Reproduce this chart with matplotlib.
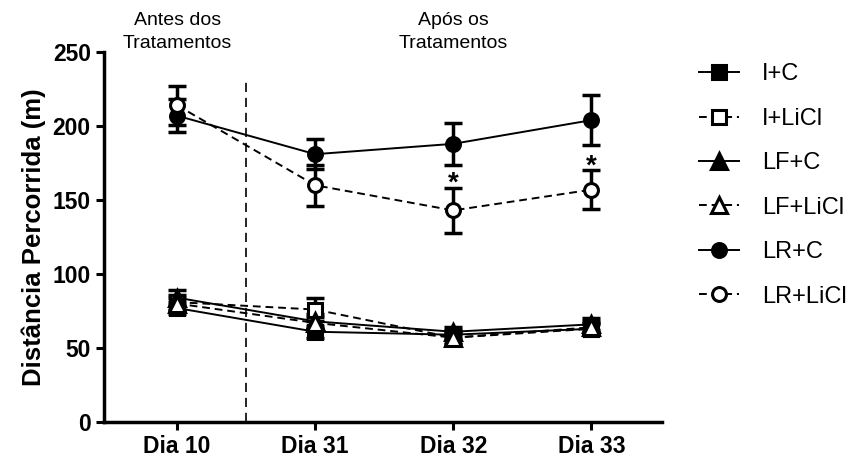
import matplotlib
matplotlib.use("Agg")
import matplotlib.pyplot as plt
import numpy as np

plt.rcParams['font.family'] = ['Liberation Sans', 'DejaVu Sans']

dias = ["Dia 10", "Dia 31", "Dia 32", "Dia 33"]
grupos = ["I+C", "I+LiCl", "LF+C", "LF+LiCl", "LR+C", "LR+LiCl"]

# mean distance per group (m)
i_c = [77, 61, 59, 63]
i_licl = [81, 76, 57, 63]
lf_c = [84, 68, 61, 66]
lf_licl = [80, 67, 57, 64]
lr_c = [207, 181, 188, 204]
lr_licl = [214, 160, 143, 157]

# standard error per group (m)
i_c_err = [4, 4, 3, 3]
i_licl_err = [5, 8, 4, 4]
lf_c_err = [5, 5, 3, 4]
lf_licl_err = [4, 4, 4, 4]
lr_c_err = [11, 10, 14, 17]
lr_licl_err = [13, 14, 15, 13]

medias = [i_c, i_licl, lf_c, lf_licl, lr_c, lr_licl]
erros = [i_c_err, i_licl_err, lf_c_err, lf_licl_err, lr_c_err, lr_licl_err]
marcadores = ['s', 's', '^', '^', 'o', 'o']
cheio = [True, False, True, False, True, False]

x = np.arange(len(dias))

fig = plt.figure(figsize=(8.55, 4.61), dpi=100)
ax = fig.add_axes([0.1216, 0.0846, 0.774 - 0.1216, 0.887 - 0.0846])

for nome, m, e, mk, f in zip(grupos, medias, erros, marcadores, cheio):
    ax.errorbar(x, m, yerr=e, color='black', ecolor='black', elinewidth=2.5,
                capsize=6.5, capthick=2.5, linestyle='none', zorder=2)
    ax.plot(x, m, linestyle='-' if f else '--', color='black', linewidth=1.4,
            marker=mk, markersize=10 if mk != '^' else 11,
            markerfacecolor='black' if f else 'white',
            markeredgecolor='black', markeredgewidth=2.2,
            label=nome, zorder=3, dashes=(None, None) if f else (4, 2.5))

# significance marks over LR+LiCl
for i in [2, 3]:
    ax.text(x[i], lr_licl[i] + lr_licl_err[i] - 6, '*', ha='center', va='bottom',
            fontsize=20, fontweight='bold')

ax.plot([0.5, 0.5], [0, 230], color='black', linestyle='--', linewidth=1.2,
        dashes=(5.5, 3.5), zorder=1)

ax.set_xlim(-0.53, 3.51)
ax.set_ylim(0, 250)
ax.set_xticks(x, dias)
ax.set_yticks(np.arange(0, 251, 50))
ax.spines['top'].set_visible(False)
ax.spines['right'].set_visible(False)
for s in ['left', 'bottom']:
    ax.spines[s].set_linewidth(2.5)
ax.tick_params(width=2.2, length=6, labelsize=16.5, direction='out')
for lab in ax.get_xticklabels() + ax.get_yticklabels():
    lab.set_fontweight('bold')
ax.set_ylabel('Distância Percorrida (m)', fontsize=18.5, fontweight='bold', labelpad=5)

ax.text(0, 1.0, 'Antes dos\nTratamentos', transform=ax.get_xaxis_transform(),
        ha='center', va='bottom', fontsize=14, linespacing=1.45)
ax.text(2, 1.0, 'Após os\nTratamentos', transform=ax.get_xaxis_transform(),
        ha='center', va='bottom', fontsize=14, linespacing=1.45)

ax.legend(loc='upper left', bbox_to_anchor=(1.05, 0.995), frameon=False,
          fontsize=17, handlelength=1.7, labelspacing=0.95, handletextpad=0.95,
          borderaxespad=0)

fig.savefig('out.png', dpi=100)
